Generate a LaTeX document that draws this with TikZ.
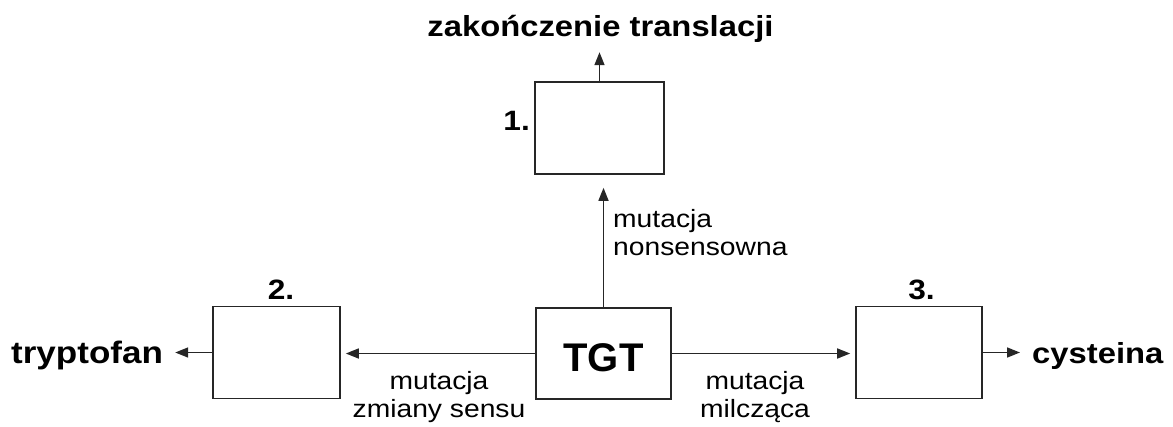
\documentclass[tikz,border=0pt]{standalone}
\usepackage{fontspec}
\setmainfont{Liberation Sans}[FakeStretch=1.13]
\newfontfamily\tgtfont{Liberation Sans}
\usetikzlibrary{arrows.meta}
\usetikzlibrary{calc}

\begin{document}
\begin{tikzpicture}[x=1pt, y=1pt,
    box/.style={draw=black!85, line width=1.6pt, inner sep=0, minimum height=92pt},
    arr/.style={draw=black!85, line width=1.6pt, -{Triangle[length=13pt,width=10pt]}},
    mut/.style={inner sep=0, align=center, font=\fontsize{25}{28}\selectfont},
    word/.style={inner sep=0, font=\bfseries\fontsize{29}{34}\selectfont}]
    \useasboundingbox (0,0) rectangle (1173,-426);
    % boxes
    \node[box, minimum width=129pt] (b1) at (599.5,-128) {};
    \node[box, minimum width=127pt] (b2) at (276.5,-352.5) {};
    \node[box, minimum width=126pt] (b3) at (919,-352.5) {};
    \node[box, minimum width=135pt, minimum height=91pt, text height=37pt,
          font=\tgtfont\bfseries\fontsize{40}{40}\selectfont] (tgt) at (603.5,-353.5) {TGT};
    % numbers
    \node[word, anchor=base east, font=\bfseries\fontsize{28}{34}\selectfont] (n1) at (530,-130) {1.};
    \node[word, anchor=base, font=\bfseries\fontsize{28}{34}\selectfont] (n2) at (281,-299) {2.};
    \node[word, anchor=base, font=\bfseries\fontsize{28}{34}\selectfont] (n3) at (921.5,-299) {3.};
    % outcomes
    \node[word, anchor=base] (end) at (600.5,-36) {zakończenie translacji};
    \node[word, anchor=base west, font=\bfseries\fontsize{31}{34}\selectfont] (tryp) at (11,-363) {tryptofan};
    \node[word, anchor=base west] (cys) at (1032,-363) {cysteina};
    % mutation labels
    \node[mut, align=left, anchor=north west] (mn) at (613,-209) {mutacja\\nonsensowna};
    \node[mut, anchor=north] (mzs) at (439,-371) {mutacja\\zmiany sensu};
    \node[mut, anchor=north] (mm) at (755,-371) {mutacja\\milcząca};
    % arrows
    \draw[arr, shorten >=10pt] (b1.north) -- (b1.north |- end.south);
    \draw[arr, shorten >=13pt] (tgt.north) -- (tgt.north |- b1.south);
    \draw[arr, shorten >=5pt] (tgt.west) -- (tgt.west -| b2.east);
    \draw[arr, shorten >=5pt] (tgt.east) -- (tgt.east -| b3.west);
    \draw[arr, shorten >=12pt] (b2.west) -- (b2.west -| tryp.east);
    \draw[arr, shorten >=12pt] (b3.east) -- (b3.east -| cys.west);
\end{tikzpicture}
\end{document}
